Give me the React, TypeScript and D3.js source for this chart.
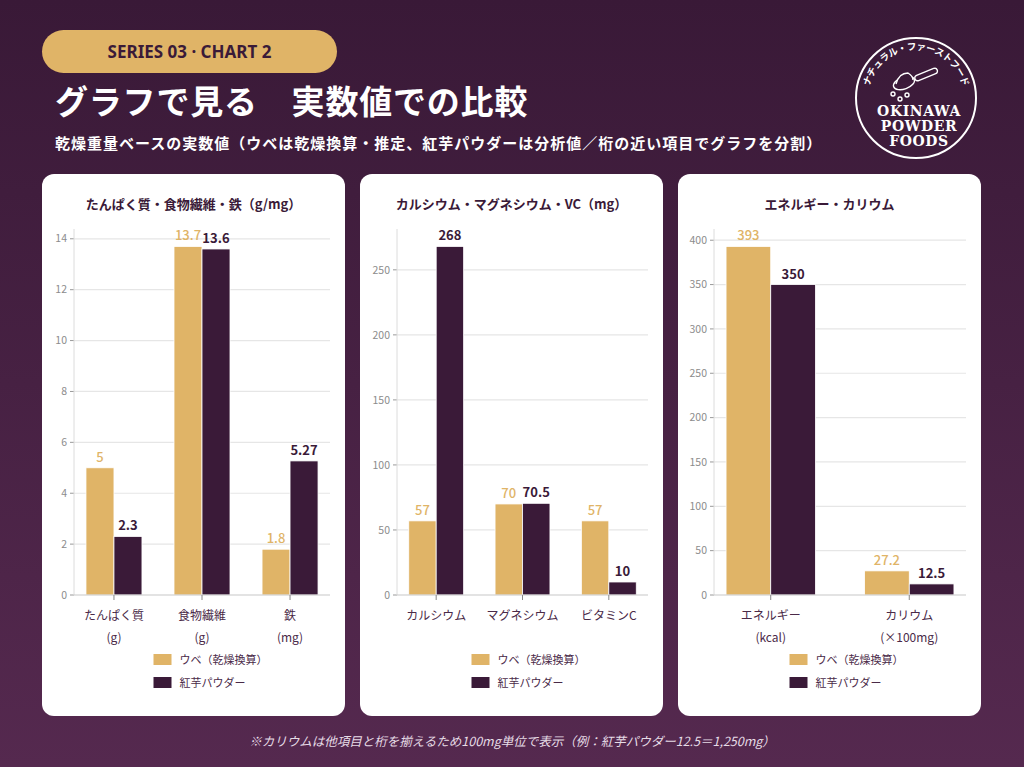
import * as d3 from "d3";

// Nutrient comparison - three grouped bar panels (ube vs purple sweet potato powder)

const FONT = "'Noto Sans CJK JP', 'Noto Sans', sans-serif";
const GOLD = "#e0b467";
const PLUM = "#3a1a38";

const seriesNames = ["ウベ（乾燥換算）", "紅芋パウダー"];

const panelTitles = [
  "たんぱく質・食物繊維・鉄（g/mg）",
  "カルシウム・マグネシウム・VC（mg）",
  "エネルギー・カリウム",
];

const cats1 = [["たんぱく質", "(g)"], ["食物繊維", "(g)"], ["鉄", "(mg)"]];
const ube1 = [5, 13.7, 1.8];
const beni1 = [2.3, 13.6, 5.27];
const ticks1 = [0, 2, 4, 6, 8, 10, 12, 14];

const cats2 = [["カルシウム"], ["マグネシウム"], ["ビタミンC"]];
const ube2 = [57, 70, 57];
const beni2 = [268, 70.5, 10];
const ticks2 = [0, 50, 100, 150, 200, 250];

const cats3 = [["エネルギー", "(kcal)"], ["カリウム", "(×100mg)"]];
const ube3 = [393, 27.2];
const beni3 = [350, 12.5];
const ticks3 = [0, 50, 100, 150, 200, 250, 300, 350, 400];

interface PanelProps {
  x: number;
  title: string;
  cats: string[][];
  ube: number[];
  beni: number[];
  ticks: number[];
  axisX: number;
  padInner: number;
  padOuter: number;
}

function Panel({ x, title, cats, ube, beni, ticks, axisX, padInner, padOuter }: PanelProps) {
  const w = 303;
  const top = 174;
  const h = 542;
  const plotTop = 229;
  const plotBottom = 595;
  const right = x + w - 15;
  const cx = x + w / 2;

  const max = (d3.max([...ube, ...beni]) || 1) * 1.05;
  const y = d3.scaleLinear().domain([0, max]).range([plotBottom, plotTop]);
  const keys = cats.map((c) => c.join(" "));
  const xb = d3
    .scaleBand<string>()
    .domain(keys)
    .range([axisX, right])
    .paddingInner(padInner)
    .paddingOuter(padOuter);
  const xs = d3.scaleBand<number>().domain([0, 1]).range([0, xb.bandwidth()]);

  const series = [ube, beni];

  return (
    <g>
      <rect x={x} y={top} width={w} height={h} rx={12} fill="#fff" />
      <text
        x={cx}
        y={209}
        textAnchor="middle"
        fontSize={13}
        fontWeight={700}
        fill={PLUM}
      >
        {title}
      </text>

      {/* grid + y ticks */}
      {ticks.map((t) => (
        <g key={t}>
          {t > 0 && (
            <line x1={axisX} x2={right} y1={y(t)} y2={y(t)} stroke="#e6e6e6" strokeWidth={1.2} />
          )}
          <line x1={axisX - 4} x2={axisX} y1={y(t)} y2={y(t)} stroke="#999" />
          <text
            x={axisX - 7}
            y={y(t)}
            dy="0.35em"
            textAnchor="end"
            fontSize={10.5}
            fill="#8c8c8c"
          >
            {t}
          </text>
        </g>
      ))}
      <line x1={axisX} x2={axisX} y1={plotTop} y2={plotBottom} stroke="#dcdcdc" />

      {/* bars */}
      {series.map((vals, si) =>
        vals.map((v, i) => {
          const bx = (xb(keys[i]) || 0) + (xs(si) || 0);
          const bw = xs.bandwidth();
          return (
            <g key={`${si}-${i}`}>
              <rect
                x={bx}
                y={y(v)}
                width={bw}
                height={plotBottom - y(v)}
                fill={si === 0 ? GOLD : PLUM}
                stroke="#fff"
                strokeWidth={0.8}
              />
              <text
                x={bx + bw / 2}
                y={y(v) - 6}
                textAnchor="middle"
                fontSize={13}
                fontWeight={si === 0 ? 500 : 700}
                fill={si === 0 ? GOLD : PLUM}
              >
                {String(v)}
              </text>
            </g>
          );
        })
      )}

      <line x1={axisX} x2={right} y1={plotBottom} y2={plotBottom} stroke="#c8c8c8" strokeWidth={1.2} />

      {/* x ticks */}
      {cats.map((c, i) => {
        const tx = (xb(keys[i]) || 0) + xb.bandwidth() / 2;
        return (
          <g key={keys[i]}>
            <line x1={tx} x2={tx} y1={plotBottom} y2={plotBottom + 5} stroke="#888" />
            {c.map((line, li) => (
              <text
                key={li}
                x={tx}
                y={620 + li * 22}
                textAnchor="middle"
                fontSize={12}
                fill="#4a2a48"
              >
                {line}
              </text>
            ))}
          </g>
        );
      })}

      {/* legend */}
      {seriesNames.map((name, si) => (
        <g key={name}>
          <rect x={cx - 40} y={654 + si * 23} width={18} height={11} fill={si === 0 ? GOLD : PLUM} />
          <text x={cx - 14} y={663.5 + si * 23} fontSize={11} fill="#4a2a48">
            {name}
          </text>
        </g>
      ))}
    </g>
  );
}

function Logo() {
  const cx = 916;
  const cy = 98;
  const r = 60;
  const tr = 48;
  return (
    <g>
      <defs>
        <path id="logoArc" d={`M${cx - tr},${cy} A${tr},${tr} 0 0 1 ${cx + tr},${cy}`} />
      </defs>
      <circle cx={cx} cy={cy} r={r} fill="none" stroke="#fff" strokeWidth={2} />
      <text fontSize={9.5} fontWeight={700} fill="#fff" letterSpacing={-0.4}>
        <textPath href="#logoArc" startOffset="50%" textAnchor="middle">
          ナチュラル・ファーストフード
        </textPath>
      </text>
      {/* spoon */}
      <g fill="none" stroke="#fff" strokeWidth={1.4} strokeLinejoin="round">
        <ellipse cx={904} cy={83} rx={11} ry={6} transform="rotate(-20 904 83)" />
        <path d="M896,84 Q899,73 908,73 Q913,76 913,80" fill={PLUM} />
        <rect x={0} y={-2.8} width={24} height={5.6} rx={2.8} transform="translate(915 79) rotate(-22)" />
        <circle cx={893} cy={94} r={2} />
        <circle cx={900} cy={99} r={2} />
        <circle cx={907} cy={95} r={2} />
      </g>
      <g fontFamily="'DejaVu Serif', serif" fontWeight={700} fill="#fff" textAnchor="middle">
        <text x={cx + 3} y={116} fontSize={14} letterSpacing={0.6}>OKINAWA</text>
        <text x={cx + 3} y={131} fontSize={14} letterSpacing={0.6}>POWDER</text>
        <text x={cx + 3} y={146} fontSize={14} letterSpacing={0.6}>FOODS</text>
      </g>
    </g>
  );
}

export default function App() {
  return (
    <svg
      width={1024}
      height={767}
      style={{ position: "absolute", left: 0, top: 0, display: "block" }}
      fontFamily={FONT}
    >
      <defs>
        <linearGradient id="bg" x1="0" y1="0" x2="0" y2="1">
          <stop offset="0%" stopColor="#391937" />
          <stop offset="100%" stopColor="#55294f" />
        </linearGradient>
      </defs>
      <rect width={1024} height={767} fill="url(#bg)" />

      <rect x={42} y={30} width={295} height={43} rx={21.5} fill={GOLD} />
      <text
        x={189.5}
        y={58}
        textAnchor="middle"
        fontSize={17}
        fontWeight={700}
        fill={PLUM}
        fontFamily="'Noto Sans', sans-serif"
      >
        SERIES 03 · CHART 2
      </text>

      <text x={55} y={114} fontSize={33} fontWeight={700} fill="#fff" letterSpacing={0.8}>
        グラフで見る　実数値での比較
      </text>
      <text x={55} y={149} fontSize={15} fontWeight={700} fill="#fff" letterSpacing={1}>
        乾燥重量ベースの実数値（ウベは乾燥換算・推定、紅芋パウダーは分析値／桁の近い項目でグラフを分割）
      </text>

      <Logo />

      <Panel x={42} title={panelTitles[0]} cats={cats1} ube={ube1} beni={beni1} ticks={ticks1} axisX={74} padInner={0.364} padOuter={0.136} />
      <Panel x={360} title={panelTitles[1]} cats={cats2} ube={ube2} beni={beni2} ticks={ticks2} axisX={397} padInner={0.364} padOuter={0.136} />
      <Panel x={678} title={panelTitles[2]} cats={cats3} ube={ube3} beni={beni3} ticks={ticks3} axisX={714} padInner={0.355} padOuter={0.087} />

      <text x={512} y={746} textAnchor="middle" fontSize={12.5} fontStyle="italic" fill="#e6dce6">
        ※カリウムは他項目と桁を揃えるため100mg単位で表示（例：紅芋パウダー12.5＝1,250mg）
      </text>
    </svg>
  );
}
